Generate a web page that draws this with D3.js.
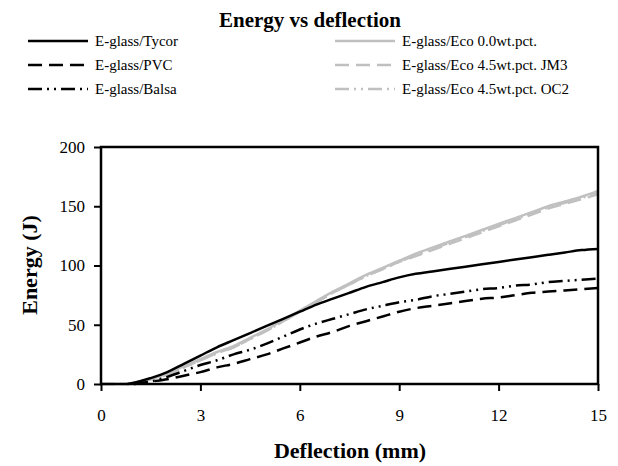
<!DOCTYPE html>
<html><head><meta charset="utf-8">
<script src="https://cdn.jsdelivr.net/npm/d3@7"></script>
<style>body{margin:0;background:#fff} text{font-family:"Liberation Serif","Times New Roman",Times,"DejaVu Serif","Noto Serif",serif}</style></head>
<body><svg id="c" width="618" height="466"></svg>
<script>
const seriesNames = ["E-glass/Tycor","E-glass/PVC","E-glass/Balsa","E-glass/Eco 0.0wt.pct.","E-glass/Eco 4.5wt.pct. JM3","E-glass/Eco 4.5wt.pct. OC2"];
const deflection = [0,0.5,0.8,1,1.5,2,2.5,3,3.5,4,4.5,5,5.5,6,6.5,7,7.5,8,8.5,9,9.5,10,10.5,11,11.5,12,12.5,13,13.5,14,14.5,15];
const tycor = [null,null,0,1,5,10,17,24,31,37,43,49,55,61,67,72,77,82,86,90,93,95,97,99,101,103,105,107,109,111,113,114];
const pvc   = [null,null,null,0,2,4,7,10,14,17,21,25,30,35,40,44,49,53,57,61,64,66,68,70,72,73,75,77,78,79,80,81];
const balsa = [null,null,null,0,2,6,11,16,20,25,29,34,40,46,51,55,59,63,66,69,71,74,76,78,80,81,83,84,86,87,88,89];
const eco00 = [0,0,0,1,4,9,15,21,27,32,39,46,54,62,70,78,85,92,98,104,110,115,120,125,130,135,140,145,150,154,158,163];
const ecoJM3= [0,0,0,1,4,8,14,20,26,31,38,45,53,61,69,77,84,91,97,103,108,113,118,123,128,133,138,143,148,152,156,160];
const ecoOC2= [0,0,0,1,4,8,14,20,26,31,38,45,53,61,69,77,84,91,97,103,109,114,119,124,129,134,139,144,149,153,157,161];
const xTicks = [0,3,6,9,12,15];
const yTicks = [0,50,100,150,200];

const svg = d3.select("#c");
const m = {l:101, r:598, t:147, b:384};
const x = d3.scaleLinear().domain([0,15]).range([m.l,m.r]);
const y = d3.scaleLinear().domain([0,200]).range([m.b,m.t]);

const styles = [
  {c:"#000", d:null},
  {c:"#000", d:"14,7"},
  {c:"#000", d:"14,5,2,5,2,5"},
  {c:"#c0c0c0", d:null},
  {c:"#c0c0c0", d:"14,7"},
  {c:"#c0c0c0", d:"14,5,2,5,2,5"}
];
const data = [tycor,pvc,balsa,eco00,ecoJM3,ecoOC2];

svg.append("text").attr("x",310).attr("y",27).attr("text-anchor","middle")
  .attr("font-weight","bold").attr("font-size",21).text("Energy vs deflection");

// legend
seriesNames.forEach((n,i)=>{
  const col = i<3?0:1, row=i%3;
  const lx = col===0?28:335, ly = 41+row*24;
  svg.append("line").attr("x1",lx).attr("x2",lx+60).attr("y1",ly).attr("y2",ly)
    .attr("stroke",styles[i].c).attr("stroke-width",2.5).attr("stroke-dasharray",styles[i].d);
  svg.append("text").attr("x",lx+67).attr("y",ly+5).attr("font-size",15).text(n);
});

// lines
const order=[3,4,5,0,1,2];
order.forEach(i=>{
  const pts = deflection.map((d,k)=>[d,data[i][k]]).filter(p=>p[1]!==null);
  svg.append("path").attr("d",d3.line().x(p=>x(p[0])).y(p=>y(p[1])).curve(d3.curveMonotoneX)(pts))
    .attr("fill","none").attr("stroke",styles[i].c).attr("stroke-width",2.5).attr("stroke-dasharray",styles[i].d);
});

// frame
svg.append("rect").attr("x",m.l).attr("y",m.t).attr("width",m.r-m.l).attr("height",m.b-m.t)
  .attr("fill","none").attr("stroke","#000").attr("stroke-width",2.5);

const xa = svg.append("g").attr("transform",`translate(0,${m.b})`)
  .call(d3.axisBottom(x).tickValues(xTicks).tickSize(7).tickPadding(18));
const ya = svg.append("g").attr("transform",`translate(${m.l},0)`)
  .call(d3.axisLeft(y).tickValues(yTicks).tickSize(7).tickPadding(9));
[xa,ya].forEach(a=>{
  a.attr("font-family",null);
  a.select(".domain").remove();
  a.selectAll("line").attr("stroke","#000").attr("stroke-width",2);
  a.selectAll("text").attr("font-size",17).attr("fill","#000");
});

svg.append("text").attr("x",350).attr("y",466-8).attr("text-anchor","middle")
  .attr("font-weight","bold").attr("font-size",22).text("Deflection (mm)");
svg.append("text").attr("transform","translate(37,265) rotate(-90)").attr("text-anchor","middle")
  .attr("font-weight","bold").attr("font-size",22).text("Energy (J)");
</script></body></html>
